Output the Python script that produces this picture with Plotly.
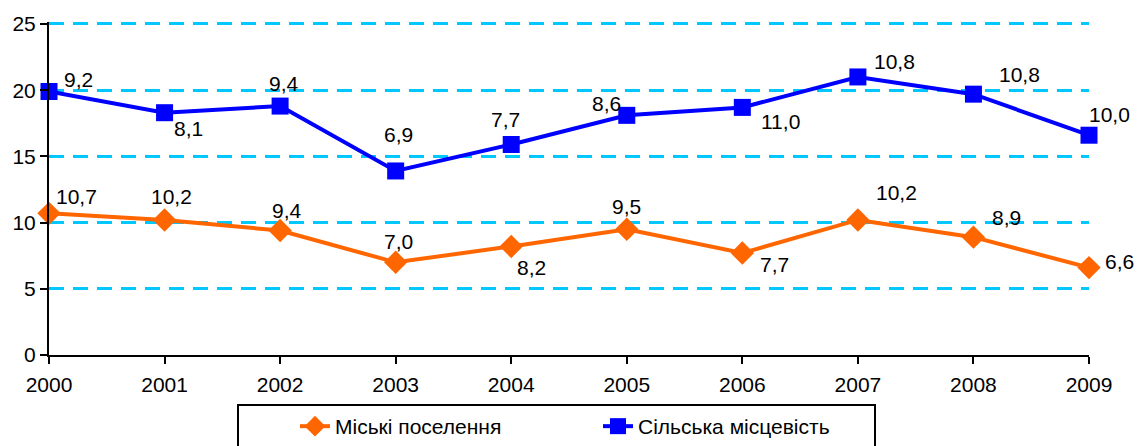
import plotly.graph_objects as go

years = [2000, 2001, 2002, 2003, 2004, 2005, 2006, 2007, 2008, 2009]
urban = [10.7, 10.2, 9.4, 7.0, 8.2, 9.5, 7.7, 10.2, 8.9, 6.6]
rural = [9.2, 8.1, 9.4, 6.9, 7.7, 8.6, 11.0, 10.8, 10.8, 10.0]
names = ["Міські поселення", "Сільська місцевість"]

# label offsets in px (dx, dy downwards)
urban_off = [(27, -17), (7, -23), (7, -20), (3, -21), (20, 21),
             (0, -23), (32, 11), (39, -27), (33, -20), (30, -6)]
rural_off = [(29, -12), (24, 16), (4, -23), (3, -36), (-6, -25),
             (-20, -12), (38, 14), (37, -15), (46, -20), (20, -21)]

ORANGE = "#FF6600"
BLUE = "#0000FF"
FONT = "Liberation Sans, Arial, sans-serif"

fig = go.Figure()
fig.add_trace(go.Scatter(
    x=years, y=urban, name=names[0], stackgroup="s", fill="none",
    mode="lines+markers", cliponaxis=False,
    line=dict(color=ORANGE, width=4),
    marker=dict(symbol="diamond", size=18, color=ORANGE),
))
fig.add_trace(go.Scatter(
    x=years, y=rural, name=names[1], stackgroup="s", fill="none",
    mode="lines+markers", cliponaxis=False,
    line=dict(color=BLUE, width=4),
    marker=dict(symbol="square", size=17, color=BLUE),
))

fmt = lambda v: f"{v:.1f}".replace(".", ",")
total = [u + r for u, r in zip(urban, rural)]
for i, yr in enumerate(years):
    fig.add_annotation(x=yr, y=urban[i], text=fmt(urban[i]), showarrow=False,
                       xshift=urban_off[i][0], yshift=-urban_off[i][1])
    fig.add_annotation(x=yr, y=total[i], text=fmt(rural[i]), showarrow=False,
                       xshift=rural_off[i][0], yshift=-rural_off[i][1])

# the page has an 8px body margin, so the figure is 8px smaller
W, H, OFF = 1135, 438, 8
L, R, T, B = 49, 1089, 24, 355  # plot area in page pixels (0..25)
YMAX = 25.15  # a bit of headroom so the top grid line is drawn
T_EXT = round((B - T) * (YMAX - 25) / 25)
px = lambda v: (v - L) / (R - L)
py = lambda v: (B - v) / (B - T + T_EXT)
# legend frame (cut by the bottom edge like the original)
fig.add_shape(type="rect", xref="paper", yref="paper",
              x0=px(238), x1=px(875), y0=py(460), y1=py(405),
              line=dict(color="black", width=2), fillcolor="white", layer="below")

fig.update_layout(
    width=W, height=H,
    margin=dict(l=L - OFF, r=W - (R - OFF), t=T - OFF - T_EXT, b=H - (B - OFF)),
    paper_bgcolor="white", plot_bgcolor="white",
    font=dict(family=FONT, size=21, color="black"),
    showlegend=True,
    legend=dict(orientation="h", xref="container", yref="container",
                x=287 / W, y=(H - 398) / H, xanchor="left", yanchor="top",
                entrywidth=258, entrywidthmode="pixels",
                bgcolor="rgba(0,0,0,0)", font=dict(size=21)),
)
fig.update_xaxes(
    range=[2000, 2009], tickvals=years, tickformat="d",
    showgrid=False, showline=True, linecolor="black", linewidth=2,
    ticks="outside", ticklen=7, tickwidth=2, tickcolor="black",
    ticklabelstandoff=3, automargin=False,
    zeroline=False, fixedrange=True,
)
fig.update_yaxes(
    range=[0, YMAX], tickvals=[0, 5, 10, 15, 20, 25], showline=True,
    linecolor="black", linewidth=2,
    ticks="outside", ticklen=7, tickwidth=2, tickcolor="black",
    showgrid=True, gridcolor="#00C8FF", gridwidth=3, griddash="15px,9px",
    zeroline=False, fixedrange=True, automargin=False,
)

fig.write_html("out.html")
